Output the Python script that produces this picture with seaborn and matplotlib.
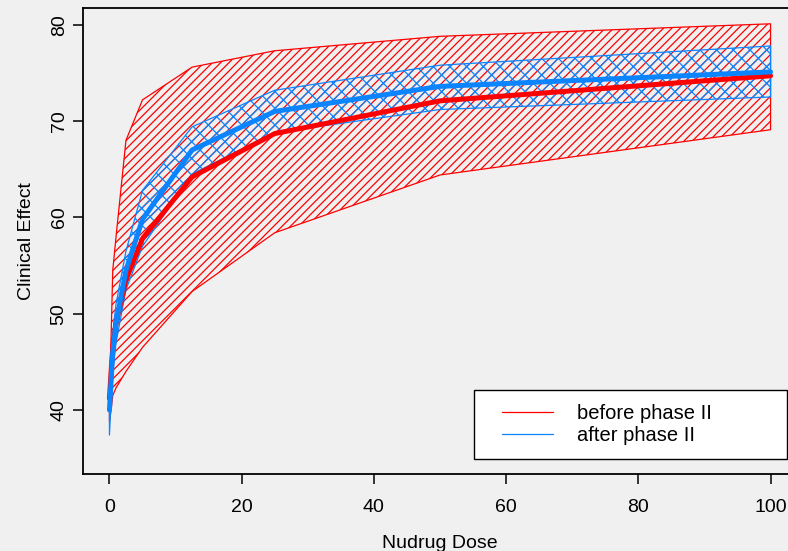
import pandas as pd
import seaborn as sns
import matplotlib
matplotlib.use('Agg')
import matplotlib.pyplot as plt
from matplotlib.lines import Line2D
from matplotlib.legend_handler import HandlerLine2D

# dose grid and values
dose = [0, 0.25, 0.5, 1, 2.5, 5, 12.5, 25, 50, 100]

before_mean = [41.2, 44.0, 46.5, 49.0, 53.5, 57.8, 64.2, 68.7, 72.1, 74.7]
before_low = [38.8, 40.0, 41.5, 42.3, 44.0, 46.5, 52.3, 58.4, 64.4, 69.1]
before_high = [41.3, 47.6, 54.5, 58.0, 68.0, 72.2, 75.6, 77.3, 78.8, 80.1]

after_mean = [40.0, 43.0, 46.0, 49.0, 54.5, 59.8, 67.0, 71.0, 73.6, 75.1]
after_low = [37.4, 41.0, 44.0, 47.0, 52.5, 57.0, 64.5, 68.8, 71.2, 72.5]
after_high = [41.5, 45.0, 48.0, 51.0, 56.5, 62.8, 69.4, 73.2, 75.8, 77.8]

labels = ['before phase II', 'after phase II']
RED = '#ff0000'
BLUE = '#0a84ff'
BG = '#f0f0f0'

df = pd.DataFrame({
    'dose': dose * 2,
    'effect': before_mean + after_mean,
    'phase': [labels[0]] * len(dose) + [labels[1]] * len(dose),
})

sns.set_style('ticks')
plt.rcParams['font.family'] = ['Liberation Sans', 'DejaVu Sans']
plt.rcParams['hatch.linewidth'] = 0.9
plt.rcParams['text.color'] = 'black'
plt.rcParams['axes.labelcolor'] = 'black'
plt.rcParams['xtick.color'] = 'black'
plt.rcParams['ytick.color'] = 'black'

fig = plt.figure(figsize=(7.88, 5.51), dpi=100, facecolor=BG)
ax = fig.add_axes([83 / 788, 1 - 474 / 551, 714 / 788, 466 / 551])
ax.set_facecolor(BG)

# uncertainty bands
ax.fill_between(dose, before_low, before_high, facecolor='none',
                edgecolor=RED, hatch='////', linewidth=0.9, zorder=1)
ax.fill_between(dose, after_low, after_high, facecolor='none',
                edgecolor=BLUE, hatch='xx', linewidth=0.9, zorder=2)

sns.lineplot(data=df, x='dose', y='effect', hue='phase',
             palette=[RED, BLUE], linewidth=3.6, legend=False, ax=ax, zorder=3)

ax.set_xlim(-4, 104)
ax.set_ylim(33.35, 81.74)
ax.set_xticks([0, 20, 40, 60, 80, 100])
ax.set_yticks([40, 50, 60, 70, 80])
ax.tick_params(axis='both', direction='out', length=7, width=1.1,
               labelsize=14, color='black', labelcolor='black')
ax.tick_params(axis='x', pad=11)
ax.tick_params(axis='y', pad=4)
plt.setp(ax.get_yticklabels(), rotation=90, va='center')
for s in ax.spines.values():
    s.set_linewidth(1.3)
    s.set_color('black')

ax.set_xlabel('Nudrug Dose', fontsize=14, labelpad=14)
ax.set_ylabel('Clinical Effect', fontsize=14, labelpad=11)

handles = [Line2D([], [], color=RED, linewidth=0.9),
           Line2D([], [], color=BLUE, linewidth=0.9)]
leg = ax.legend(handles, labels, loc='upper left',
                bbox_to_anchor=(474 / 788, 1 - 390 / 551, 313 / 788, 0.0),
                bbox_transform=fig.transFigure, mode='expand',
                fancybox=False, framealpha=1, edgecolor='black',
                fontsize=14.5, handlelength=3.2, handletextpad=1.2,
                labelspacing=0.15, borderpad=0.7, borderaxespad=0,
                handler_map={Line2D: HandlerLine2D(xpad=0.7)})
leg.get_frame().set_linewidth(1.0)

fig.savefig('out.png', dpi=100, facecolor=BG)
